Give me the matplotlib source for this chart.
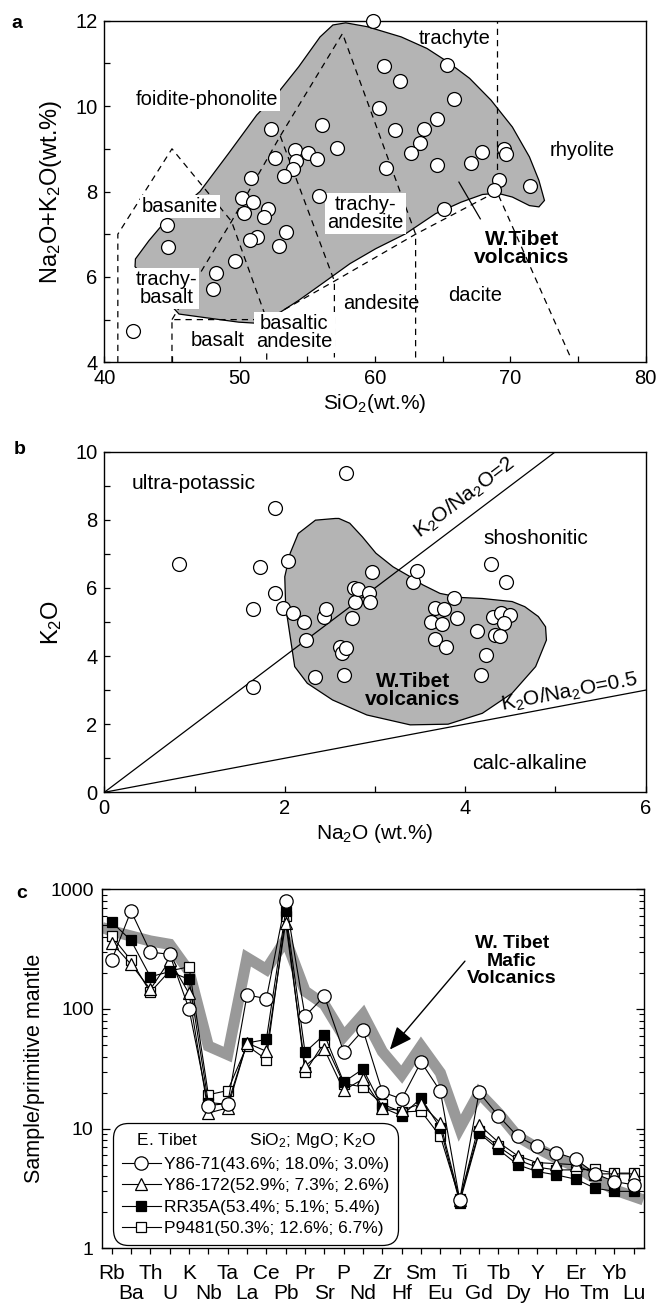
#!/usr/bin/env python3

import numpy as np
import matplotlib
matplotlib.use('Agg')
import matplotlib.pyplot as plt
from matplotlib import font_manager
from matplotlib.patches import Polygon
from matplotlib.ticker import NullFormatter, LogLocator, FixedLocator, FixedFormatter

plt.rcParams['font.family'] = ['Liberation Sans', 'DejaVu Sans']
plt.rcParams['mathtext.fontset'] = 'custom'
plt.rcParams['mathtext.rm'] = 'Liberation Sans'
plt.rcParams['mathtext.it'] = 'Liberation Sans:italic'
plt.rcParams['mathtext.bf'] = 'Liberation Sans:bold'
plt.rcParams['mathtext.default'] = 'regular'
plt.rcParams['axes.linewidth'] = 1.0

# panel c of the original uses a condensed face; take it if the system has one
installed = {f.name for f in font_manager.fontManager.ttflist}
if 'Liberation Sans Narrow' in installed:
    NARROW, leg_size = 'Liberation Sans Narrow', 14.5
else:
    NARROW, leg_size = 'Liberation Sans', 12.5

# ---- panel a: TAS diagram ----
tas_sio2 = [59.86, 60.68, 61.82, 65.35, 65.86, 60.33, 64.59, 61.5, 63.61, 63.3, 62.64, 64.59,
            60.81, 67.06, 67.88, 69.55, 69.68, 69.14, 68.82, 71.48, 65.1, 52.29, 56.06, 57.21,
            54.09, 55.07, 55.74, 52.61, 54.14, 53.92, 53.28, 50.82, 55.89, 50.2, 50.96, 52.12,
            50.32, 51.8, 53.42, 51.26, 50.76, 52.91, 49.66, 44.61, 44.73, 48.23, 48.05, 42.14]
tas_alk = [12.0, 10.94, 10.58, 10.97, 10.17, 9.96, 9.70, 9.43, 9.46, 9.14, 8.89, 8.63,
           8.56, 8.67, 8.93, 8.99, 8.87, 8.26, 8.03, 8.14, 7.58, 9.46, 9.56, 9.03,
           8.97, 8.89, 8.76, 8.78, 8.71, 8.52, 8.36, 8.31, 7.89, 7.84, 7.76, 7.58,
           7.49, 7.40, 7.06, 6.93, 6.86, 6.72, 6.38, 7.22, 6.71, 6.08, 5.72, 4.74]

# outline of the W. Tibet field
field_a_sio2 = [42.27, 42.3, 43.3, 44.5, 45.8, 47.07, 49.2, 51.26, 52.8, 54.36, 55.94, 56.89,
                57.84, 59.42, 61.94, 63.84, 65.35, 66.99, 68.57, 70.15, 71.41, 72.11, 72.52,
                72.11, 71.41, 70.15, 69.05, 67.94, 66.36, 64.47, 62.26, 60.05, 58.15, 56.26,
                54.36, 52.79, 51.52, 49.94, 48.05, 45.52]
field_a_alk = [6.24, 6.42, 6.85, 7.3, 7.65, 8.0, 8.9, 9.79, 10.3, 10.92, 11.62, 11.90,
               11.95, 11.86, 11.62, 11.35, 11.04, 10.65, 10.14, 9.51, 8.81, 8.26, 7.79,
               7.64, 7.67, 7.87, 7.96, 7.93, 7.75, 7.48, 7.01, 6.66, 6.31, 5.88,
               5.45, 5.13, 4.91, 4.94, 5.02, 5.13]

# dashed classification boundaries (Le Bas et al.)
tas_bounds = [
    ([41, 41, 45, 49.4, 52, 52], [4, 7, 9.0, 7.3, 5, 4]),
    ([45, 45, 52, 57, 63, 69, 74.4], [4, 5, 5, 5.9, 7, 8, 4.15]),
    ([45, 49.4, 53, 57.6, 63, 63], [5, 7.3, 9.3, 11.7, 7, 4]),
    ([53, 57, 57], [9.3, 5.9, 4]),
    ([69, 69], [8, 12]),
]

tas_labels = [
    ('trachyte', 65.9, 11.58, False),
    ('foidite-phonolite', 47.6, 10.16, True),
    ('rhyolite', 75.3, 8.96, False),
    ('basanite', 45.6, 7.64, True),
    ('trachy-\nandesite', 59.3, 7.48, True),
    ('trachy-\nbasalt', 44.6, 5.72, True),
    ('basalt', 48.4, 4.51, False),
    ('basaltic\nandesite', 54.05, 4.70, True),
    ('andesite', 60.45, 5.37, False),
    ('dacite', 67.4, 5.56, False),
]

# ---- panel b: K2O vs Na2O ----
na2o = [0.83, 1.65, 1.72, 1.89, 1.89, 1.65, 2.04, 1.98, 2.09, 2.21, 2.23, 2.44, 2.46, 2.34,
        2.68, 2.66, 2.61, 2.63, 2.68, 2.75, 2.78, 2.77, 2.81, 2.93, 2.95, 2.97, 3.42, 3.47,
        3.62, 3.67, 3.74, 3.76, 3.87, 3.91, 3.67, 3.79, 4.13, 4.29, 4.45, 4.31, 4.40, 4.50,
        4.43, 4.33, 4.38, 4.23, 4.18]
k2o = [6.69, 5.38, 6.62, 8.34, 5.84, 3.10, 6.80, 5.40, 5.25, 5.01, 4.47, 5.14, 5.38, 3.38,
       9.36, 3.44, 4.28, 4.08, 4.23, 5.11, 5.60, 5.99, 5.96, 5.84, 5.60, 6.48, 6.18, 6.51,
       5.01, 5.40, 4.94, 5.38, 5.71, 5.13, 4.49, 4.28, 4.75, 6.70, 6.16, 5.14, 5.27, 5.21,
       4.96, 4.62, 4.59, 4.03, 3.44]

field_b_na = [2.56, 2.34, 2.15, 2.06, 2.0, 2.01, 2.06, 2.11, 2.25, 2.53, 2.91, 3.39, 3.81,
              4.19, 4.52, 4.78, 4.90, 4.89, 4.81, 4.66, 4.52, 4.19, 3.95, 3.72, 3.53, 3.39,
              3.20, 3.01, 2.86, 2.72, 2.60]
field_b_k = [8.04, 7.99, 7.60, 7.02, 6.33, 5.45, 4.57, 3.69, 3.20, 2.71, 2.27, 1.98, 2.00,
             2.32, 2.91, 3.69, 4.47, 4.86, 5.16, 5.45, 5.60, 5.69, 5.72, 5.84, 6.09, 6.33,
             6.62, 7.02, 7.50, 7.90, 8.04]

ratio_values = [2, 0.5]
ratio_na_end = [5, 6]

# ---- panel c: spider diagram ----
elements = ['Rb', 'Ba', 'Th', 'U', 'K', 'Nb', 'Ta', 'La', 'Ce', 'Pb', 'Pr', 'Sr', 'P', 'Nd',
            'Zr', 'Hf', 'Sm', 'Eu', 'Ti', 'Gd', 'Tb', 'Dy', 'Y', 'Ho', 'Er', 'Tm', 'Yb', 'Lu']

w_tibet_band_pos = [-0.5] + list(range(28)) + [27.5]
w_tibet_band = [480, 449, 407, 370, 347, 207, 49, 41.6, 268, 214, 380, 141, 109, 59, 90,
                44, 28.3, 48.9, 29.2, 10.1, 19.9, 13.5, 8.6, 6.9, 5.67, 4.82, 3.85, 3.08,
                2.71, 2.54]

y86_71 = [255, 659, 299, 286, 100, 15.6, 16.2, 131, 122, 800, 87, 128, 43.8, 66.5,
          20.2, 17.7, 36.1, 20.5, 2.54, 20.1, 12.8, 8.6, 7.1, 6.3, 5.56, 4.2, 3.61, 3.39]
y86_172 = [358, 236, 146, 255, 135, 13.5, 14.9, 52, 44.3, 527, 33.2, 46, 20.9, 26,
           14.8, 14.2, 16.2, 11.1, 2.54, 10.8, 7.7, 5.93, 5.2, 5.1, 4.99, 4.19, 4.19, 4.19]
rr35a = [533, 374, 186, 205, 177, 16.5, 16.0, 52, 55.6, 659, 43.5, 61, 24.5, 31.5,
         15.0, 12.8, 18.0, 10.1, 2.41, 9.2, 6.7, 4.99, 4.38, 4.1, 3.78, 3.18, 2.99, 2.99]
p9481 = [407, 255, 138, 208, 225, 19.2, 20.8, 49.5, 37.8, 600, 29.6, 53, 23.8, 22.3,
         16.0, 13.8, 14.0, 8.6, 2.57, 9.5, 7.1, 5.48, 4.76, 4.52, 4.52, 4.58, 4.25, 4.25]

sample_labels = ['Y86-71(43.6%; 18.0%; 3.0%)', 'Y86-172(52.9%; 7.3%; 2.6%)',
                 'RR35A(53.4%; 5.1%; 5.4%)', 'P9481(50.3%; 12.6%; 6.7%)']


def fig_rect(left, top, right, bottom, w=669.0, h=1303.0):
    return [left / w, 1 - bottom / h, (right - left) / w, (bottom - top) / h]


fig = plt.figure(figsize=(6.69, 13.03), dpi=100)
ax1 = fig.add_axes(fig_rect(104.3, 20.7, 645.7, 362.3))
ax2 = fig.add_axes(fig_rect(104.3, 451.7, 645.7, 792.3))
ax3 = fig.add_axes(fig_rect(102.0, 889.3, 644.0, 1248.3))

FIELD = '#b4b4b4'
dash = (0, (5, 4))

# panel a
ax1.add_patch(Polygon(np.column_stack([field_a_sio2, field_a_alk]), closed=True,
                      facecolor=FIELD, edgecolor='black', lw=0.9, zorder=1))
for xs, ys in tas_bounds:
    ax1.plot(xs, ys, color='black', lw=0.9, linestyle=dash, zorder=2)
for txt, x, y, boxed in tas_labels:
    kw = dict(ha='center', va='center', fontsize=14.5, linespacing=0.92, zorder=3)
    if boxed:
        kw['bbox'] = dict(facecolor='white', edgecolor='none', pad=1.5)
    ax1.text(x, y, txt, **kw)
ax1.text(70.85, 6.66, 'W.Tibet\nvolcanics', ha='center', va='center', fontsize=15,
         fontweight='bold', linespacing=0.9, zorder=3)
ax1.plot([66.2, 67.78], [8.22, 7.36], color='black', lw=0.9, zorder=3)
ax1.plot(tas_sio2, tas_alk, 'o', ms=10, mfc='white', mec='black', mew=0.9, zorder=4,
         clip_on=False)
ax1.set_xlim(40, 80)
ax1.set_ylim(4, 12)
ax1.set_xticks([40, 50, 60, 70, 80])
ax1.set_xticks([45, 55, 65, 75], minor=True)
ax1.set_yticks([4, 6, 8, 10, 12])
ax1.set_yticks([5, 7, 9, 11], minor=True)
ax1.set_xlabel('SiO$_2$(wt.%)', fontsize=15, labelpad=3)
ax1.set_ylabel('Na$_2$O+K$_2$O(wt.%)', fontsize=17, labelpad=8)

# panel b
ax2.add_patch(Polygon(np.column_stack([field_b_na, field_b_k]), closed=True,
                      facecolor=FIELD, edgecolor='black', lw=0.9, zorder=1))
for r, xe in zip(ratio_values, ratio_na_end):
    ax2.plot([0, xe], [0, r * xe], color='black', lw=0.9, zorder=2)
ax2.text(3.99, 8.65, 'K$_2$O/Na$_2$O=2', rotation=np.degrees(np.arctan(2)),
         transform_rotates_text=True, rotation_mode='anchor', ha='center', va='center',
         fontsize=15)
ax2.text(5.15, 2.93, 'K$_2$O/Na$_2$O=0.5', rotation=np.degrees(np.arctan(0.5)),
         transform_rotates_text=True, rotation_mode='anchor', ha='center', va='center',
         fontsize=15)
ax2.text(0.99, 9.07, 'ultra-potassic', ha='center', va='center', fontsize=15)
ax2.text(4.78, 7.46, 'shoshonitic', ha='center', va='center', fontsize=15)
ax2.text(4.71, 0.85, 'calc-alkaline', ha='center', va='center', fontsize=15)
ax2.text(3.42, 2.98, 'W.Tibet\nvolcanics', ha='center', va='center', fontsize=15,
         fontweight='bold', linespacing=0.95, zorder=3)
ax2.plot(na2o, k2o, 'o', ms=10, mfc='white', mec='black', mew=0.9, zorder=4)
ax2.set_xlim(0, 6)
ax2.set_ylim(0, 10)
ax2.set_xticks([0, 2, 4, 6])
ax2.set_xticks([1, 3, 5], minor=True)
ax2.set_yticks([0, 2, 4, 6, 8, 10])
ax2.set_yticks([1, 3, 5, 7, 9], minor=True)
ax2.set_xlabel('Na$_2$O (wt.%)', fontsize=15, labelpad=3)
ax2.set_ylabel('K$_2$O', fontsize=17, labelpad=8)

for ax in (ax1, ax2):
    ax.tick_params(which='both', direction='in', length=4, width=0.9, labelsize=14.5, pad=5)

# panel c
x = np.arange(len(elements))
ax3.plot(w_tibet_band_pos, w_tibet_band, color='#999999', lw=8, solid_joinstyle='miter',
         solid_capstyle='butt', zorder=1)
series = [(p9481, 's', 'white', 7.7), (rr35a, 's', 'black', 7.7),
          (y86_172, '^', 'white', 8.6), (y86_71, 'o', 'white', 9.6)]
handles = {}
for vals, mk, fc, ms in series:
    ln, = ax3.plot(x, vals, marker=mk, ms=ms, mfc=fc, mec='black', mew=0.9,
                   color='black', lw=0.8, zorder=3)
    handles[id(vals)] = ln
order = [y86_71, y86_172, rr35a, p9481]
leg = ax3.legend([handles[id(v)] for v in order], sample_labels, loc='lower left',
                 bbox_to_anchor=(0.02, 0.01), borderaxespad=0,
                 title='   E. Tibet           SiO$_2$; MgO; K$_2$O',
                 alignment='left', frameon=True, fancybox=True,
                 prop={'family': NARROW, 'size': leg_size},
                 title_fontproperties={'family': NARROW, 'size': leg_size},
                 edgecolor='black', framealpha=1, handlelength=2.3, handletextpad=0.15,
                 labelspacing=0.36, borderpad=0.5)
leg.get_frame().set_boxstyle('round,pad=0,rounding_size=0.9')
leg.get_frame().set_linewidth(0.9)
leg.set_zorder(5)

ax3.annotate('', xy=(14.39, 45.8), xytext=(18.27, 251),
             arrowprops=dict(arrowstyle='-|>,head_length=0.7,head_width=0.3', color='black',
                             lw=1.0, mutation_scale=20, shrinkA=0, shrinkB=0))
ax3.text(20.7, 251, 'W. Tibet\nMafic\nVolcanics', ha='center', va='center', fontsize=14,
         fontweight='bold', linespacing=1.03)

ax3.set_yscale('log')
ax3.set_ylim(1, 1000)
ax3.set_xlim(-0.5, 27.53)
ax3.set_yticks([1, 10, 100, 1000])
ax3.set_yticklabels(['1', '10', '100', '1000'])
ax3.yaxis.set_minor_locator(LogLocator(base=10, subs=np.arange(2, 10)))
ax3.yaxis.set_minor_formatter(NullFormatter())
# element names alternate between two rows: even ones as major ticks, odd ones as minor
ax3.xaxis.set_major_locator(FixedLocator(x[::2]))
ax3.xaxis.set_minor_locator(FixedLocator(x[1::2]))
ax3.xaxis.set_major_formatter(FixedFormatter(elements[::2]))
ax3.xaxis.set_minor_formatter(FixedFormatter(elements[1::2]))
ax3.tick_params(axis='y', which='major', direction='in', right=True, length=6, width=0.9,
                labelsize=14, pad=6)
ax3.tick_params(axis='y', which='minor', direction='in', right=True, length=3.5, width=0.8)
ax3.tick_params(axis='x', which='major', direction='out', length=4, width=0.9,
                labelsize=15, pad=7)
ax3.tick_params(axis='x', which='minor', direction='out', length=4, width=0.9,
                labelsize=15, pad=21.5)
for lbl in ax3.get_xticklabels(which='both'):
    lbl.set_family(NARROW if NARROW != 'Liberation Sans' else 'Liberation Sans')
ax3.set_ylabel('Sample/primitive mantle', fontsize=15.5, labelpad=4)

for lab, (px, py) in zip(['a', 'b', 'c'], [(17, 23), (19.5, 449), (22, 894)]):
    fig.text(px / 669, 1 - py / 1303, lab, ha='center', va='center', fontsize=14,
             fontweight='bold')

fig.savefig('out.png', dpi=100)
